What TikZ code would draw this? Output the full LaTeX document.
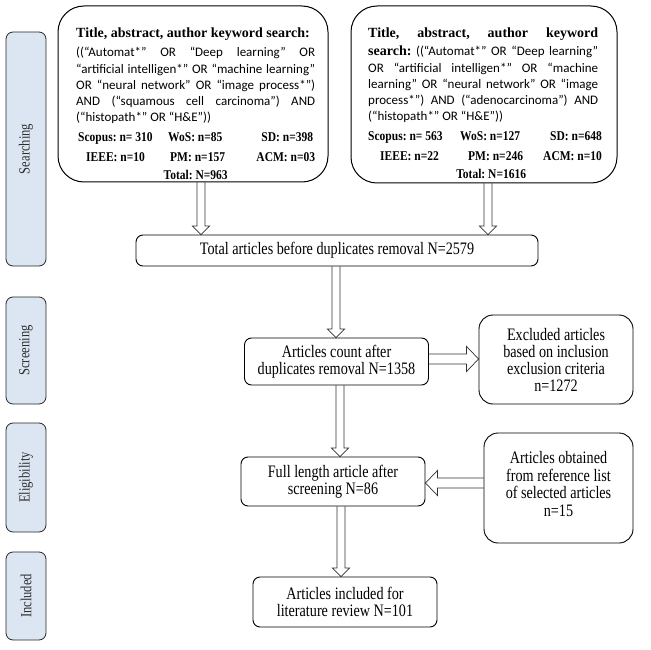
\documentclass[tikz,border=0pt]{standalone}
\usepackage{fontspec}
\setmainfont{Liberation Serif}
\newfontfamily\qfont{Carlito}
\newfontfamily\condf[FakeStretch=0.81]{Liberation Serif}
\newfontfamily\statfam[FakeStretch=0.86]{Liberation Serif}
\usetikzlibrary{calc,backgrounds}
\definecolor{lanefill}{RGB}{220,230,242}
\definecolor{lanetext}{RGB}{45,45,45}
\newcommand\blockdown[2]{\draw[barrow] let \p1=(#1), \p2=(#2) in
  (\x1-4pt,\y1) -- (\x1-4pt,\y2+8.5pt) -- (\x1-8.5pt,\y2+8.5pt) -- (\x1,\y2) -- (\x1+8.5pt,\y2+8.5pt) -- (\x1+4pt,\y2+8.5pt) -- (\x1+4pt,\y1);}
\newcommand\blockright[2]{\draw[barrow] let \p1=(#1), \p2=(#2) in
  (\x1,\y1+5pt) -- (\x2-12pt,\y1+5pt) -- (\x2-12pt,\y1+12.5pt) -- (\x2,\y1) -- (\x2-12pt,\y1-12.5pt) -- (\x2-12pt,\y1-5pt) -- (\x1,\y1-5pt);}
\newcommand\blockleft[2]{\draw[barrow] let \p1=(#1), \p2=(#2) in
  (\x1,\y1+5pt) -- (\x2+12pt,\y1+5pt) -- (\x2+12pt,\y1+12.5pt) -- (\x2,\y1) -- (\x2+12pt,\y1-12.5pt) -- (\x2+12pt,\y1-5pt) -- (\x1,\y1-5pt);}
\newcommand\titlef{\rmfamily\bfseries\fontsize{14}{16.25}\selectfont}
\newcommand\statf{\statfam\bfseries\fontsize{13.4}{16.25}\selectfont}
\newcommand\fixsp{\spaceskip=0pt\xspaceskip=0pt\frenchspacing}
\begin{document}
\begin{tikzpicture}[x=1pt,y=-1pt,
  lane/.style={draw=black!85, fill=lanefill, rounded corners=7pt, line width=0.8pt,
    minimum height=40pt, inner sep=0pt, text=lanetext, font=\condf\fontsize{15.5}{16}\selectfont, rotate=90},
  bigbox/.style={draw, rounded corners=26pt, line width=1pt},
  querytext/.style={anchor=north west, inner sep=0pt, align=left,
    font=\qfont\fontsize{13}{16.25}\selectfont, execute at begin node=\fixsp},
  flowbox/.style={draw, rounded corners=7pt, line width=0.9pt, align=center,
    font=\condf\fontsize{17.5}{17}\selectfont, inner sep=0pt, execute at begin node=\fixsp},
  sidebox/.style={flowbox, rounded corners=14pt},
  flowtext/.style={align=center, font=\condf\fontsize{17.5}{17.4}\selectfont, inner sep=0pt,
    execute at begin node=\fixsp},
  barrow/.style={draw=black!80, fill=white, line width=0.7pt, line join=miter},
]
\useasboundingbox (0,0) rectangle (651,650);

% stage lanes
\node[lane, minimum width=234pt] (lsearch) at (26,149) {Searching};
\node[lane, minimum width=107pt] (lscreen) at (26,350.5) {Screening};
\node[lane, minimum width=109pt] (lelig) at (26,477.5) {Eligibility};
\node[lane, minimum width=88pt] (lincl) at (26,596) {Included};

% search boxes
\node[bigbox, minimum width=270pt, minimum height=176pt] (tl) at (193,94) {};
\node[bigbox, minimum width=266pt, minimum height=177pt] (tr) at (484,94.5) {};

\node[querytext, text width=239pt] (tlt) at (76,28) {%
{\titlef Title, abstract, author keyword search:}\\[2.75pt]
\makebox[239pt][s]{((“Automat*” OR “Deep learning” OR}\\
\makebox[239pt][s]{“artificial intelligen*” OR “machine learning”}\\
\makebox[239pt][s]{OR “neural network” OR “image process*”)}\\
\makebox[239pt][s]{AND (“squamous cell carcinoma”) AND}\\
(“histopath*” OR “H\&E”))\\[3pt]
\makebox[239pt][l]{\statf\hspace*{2pt}\makebox[90pt][l]{Scopus: n= 310}\makebox[90pt][l]{WoS: n=85}\hfill SD: n=398\hspace*{2pt}}\\[3.75pt]
\makebox[239pt][l]{\statf\hspace*{10pt}\makebox[84pt][l]{IEEE: n=10}\makebox[80pt][l]{PM: n=157}\hfill ACM: n=03}\\[1.75pt]
\makebox[239pt]{\statf Total: N=963}};

\node[querytext, text width=230pt] (trt) at (368,28) {%
\makebox[230pt][s]{\titlef Title, abstract, author keyword}\\[1.75pt]
\makebox[230pt][s]{{\titlef search:} ((“Automat*” OR “Deep learning”}\\
\makebox[230pt][s]{OR “artificial intelligen*” OR “machine}\\
\makebox[230pt][s]{learning” OR “neural network” OR “image}\\
\makebox[230pt][s]{process*”) AND (“adenocarcinoma”) AND}\\
(“histopath*” OR “H\&E”))\\[3pt]
\makebox[230pt][l]{\statf\makebox[92pt][l]{Scopus: n= 563}\makebox[90pt][l]{WoS: n=127}\hfill SD: n=648}\\[3.75pt]
\makebox[230pt][l]{\statf\hspace*{12pt}\makebox[88pt][l]{IEEE: n=22}\makebox[75pt][l]{PM: n=246}\hfill ACM: n=10}\\[1.75pt]
\makebox[230pt]{\statf\hspace*{16pt}Total: N=1616}};

% flow boxes
\node[flowbox, minimum width=402pt, minimum height=31pt] (tot) at (337,250.5)
  {Total articles before duplicates removal N=2579};
\node[flowbox, minimum width=184pt, minimum height=47pt] (cnt) at (336.5,361.5)
  {Articles count after\\duplicates removal N=1358};
\node[sidebox, minimum width=154pt, minimum height=89pt] (excl) at (556,359.5)
  {Excluded articles\\based on inclusion\\exclusion criteria\\n=1272};
\node[flowbox, minimum width=184pt, minimum height=49pt] (full) at (333,481.5)
  {Full length article after\\screening N=86};
\node[sidebox, minimum width=149pt, minimum height=110pt] (obt) at (558.5,488) {};
\node[flowtext] (obtt) at (558.5,484)
  {Articles obtained\\from reference list\\of selected articles\\n=15};
\node[flowbox, minimum width=184pt, minimum height=50pt] (incl) at (345,602)
  {Articles included for\\literature review N=101};

% arrow positions
\coordinate (xa) at (201,0);
\coordinate (xb) at (488,0);
\coordinate (xc) at (336,0);
\coordinate (xd) at (340,0);
\coordinate (xe) at (341,0);
\coordinate (ya) at (0,359);
\coordinate (yb) at (0,483);

\begin{pgfonlayer}{background}
\blockdown{tl.south -| xa}{tot.north -| xa}
\blockdown{tr.south -| xb}{tot.north -| xb}
\blockdown{tot.south -| xc}{cnt.north -| xc}
\blockright{cnt.east |- ya}{excl.west |- ya}
\blockdown{cnt.south -| xd}{full.north -| xd}
\blockleft{obt.west |- yb}{full.east |- yb}
\blockdown{full.south -| xe}{incl.north -| xe}
\end{pgfonlayer}
\end{tikzpicture}
\end{document}
